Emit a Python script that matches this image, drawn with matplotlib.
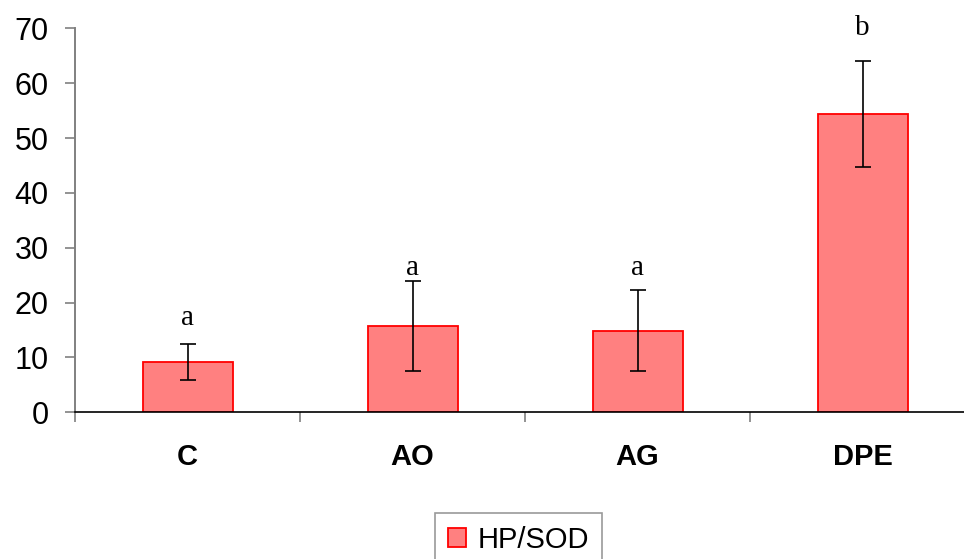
import matplotlib.pyplot as plt
import numpy as np

# ── Dados ──────────────────────────────────────────────────────
categorias = ['C', 'AO', 'AG', 'DPE']
valores = [9.1, 15.7, 14.9, 54.4]
erros = [3.3, 8.2, 7.4, 9.7]
letras = ['a', 'a', 'a', 'b']
pos_letras = [16.0, 25.0, 25.0, 68.8]
serie = 'HP/SOD'
# ───────────────────────────────────────────────────────────────

W, H = 964, 559
fig = plt.figure(figsize=(W / 100, H / 100), dpi=100)
ax = fig.add_axes([75 / W, 146.7 / H, 900 / W, 384 / H])

x = np.arange(len(categorias))
barras = ax.bar(x, valores, width=0.4, color='#FF8080', edgecolor='#FF0000',
                linewidth=1.3, label=serie, zorder=2)
ax.errorbar(x, valores, yerr=erros, fmt='none', ecolor='black',
            elinewidth=1.2, capsize=5.5, capthick=1.2, zorder=3)

# letras de significância
for xi, letra, yl in zip(x, letras, pos_letras):
    ax.text(xi, yl, letra, ha='center', va='baseline', fontsize=21,
            family='Liberation Serif')

ax.set_xlim(-0.5, 3.5)
ax.set_ylim(0, 70)
ax.set_yticks(range(0, 71, 10))
ax.set_xticks(x)
ax.set_xticklabels(categorias, fontsize=21, fontweight='bold',
                   family='Liberation Sans')
ax.set_xticks(np.arange(-0.5, 4, 1), minor=True)

for lbl in ax.get_yticklabels():
    lbl.set_family('Liberation Sans')
    lbl.set_fontsize(22)

ax.tick_params(axis='x', which='major', length=0, pad=22)
ax.tick_params(axis='x', which='minor', length=7, width=1.2, color='#808080',
               direction='out')
ax.tick_params(axis='y', length=7, width=1.2, color='#808080', pad=12)

for lado in ['top', 'right']:
    ax.spines[lado].set_visible(False)
ax.spines['left'].set_color('#808080')
ax.spines['left'].set_linewidth(1.4)
ax.spines['bottom'].set_color('black')
ax.spines['bottom'].set_linewidth(1.2)

leg = fig.legend(handles=[barras], labels=[serie], loc='upper left',
                 bbox_to_anchor=(435 / W, 1 - 512.7 / H), borderaxespad=0,
                 fancybox=False, frameon=True,
                 prop={'family': 'Liberation Sans', 'size': 21},
                 handlelength=0.6, handleheight=0.65, handletextpad=0.4,
                 borderpad=0.45)
leg.get_frame().set_edgecolor('#808080')
leg.get_frame().set_linewidth(1.2)

plt.savefig('out.png', dpi=100)
